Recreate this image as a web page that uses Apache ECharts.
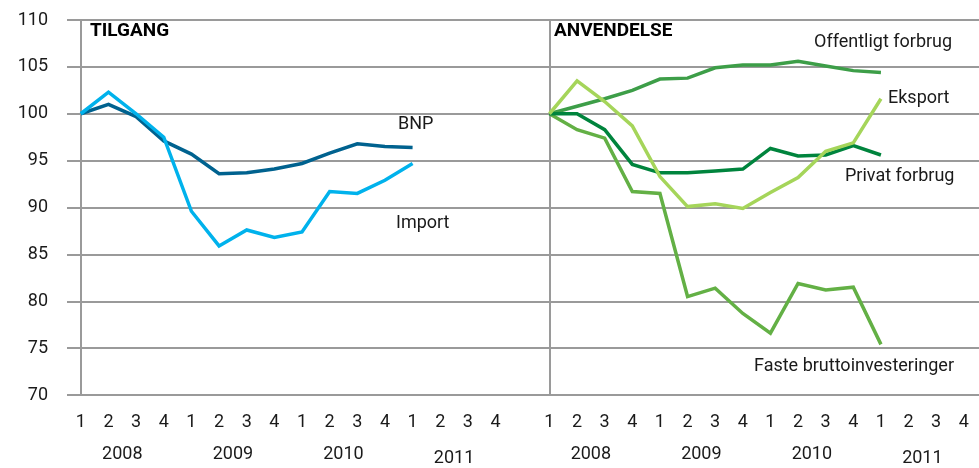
<!DOCTYPE html>
<html>
<head>
<meta charset="utf-8">
<script src="https://cdn.jsdelivr.net/npm/echarts@6/dist/echarts.min.js"></script>
<style>
  html, body { margin: 0; padding: 0; background: #fff; }
  #chart { width: 979px; height: 468px; }
</style>
</head>
<body>
<div id="chart"></div>
<script>
// kvartaler og år
const quarters = ['1', '2', '3', '4', '1', '2', '3', '4', '1', '2', '3', '4', '1', '2', '3', '4']
const years = ['2008', '2009', '2010', '2011']
const yearPos = [1.5, 5.5, 9.5, 13.5]
const yTicks = [70, 75, 80, 85, 90, 95, 100, 105, 110]

// TILGANG
const bnp = [100, 101.0, 99.7, 97.1, 95.7, 93.6, 93.7, 94.1, 94.7, 95.8, 96.8, 96.5, 96.4]
const importData = [100, 102.3, 100.0, 97.5, 89.6, 85.9, 87.6, 86.8, 87.4, 91.7, 91.5, 92.9, 94.7]

// ANVENDELSE
const offentligt = [100, 100.8, 101.6, 102.5, 103.7, 103.8, 104.9, 105.2, 105.2, 105.6, 105.1, 104.6, 104.4]
const eksport = [100, 103.5, 101.3, 98.7, 93.3, 90.1, 90.4, 89.9, 91.6, 93.2, 96.0, 96.9, 101.6]
const privat = [100, 100.0, 98.3, 94.6, 93.7, 93.7, 93.9, 94.1, 96.3, 95.5, 95.6, 96.6, 95.6]
const faste = [100, 98.3, 97.4, 91.7, 91.5, 80.5, 81.4, 78.7, 76.6, 81.9, 81.2, 81.5, 75.4]

const FONT = "'Liberation Sans Narrow', 'Roboto', sans-serif"
const GRID_COLOR = '#9a9a9a'
const TEXT_COLOR = '#1a1a1a'

function toPairs(arr) {
  return arr.map((v, i) => [i, v])
}

function quarterAxis(gridIndex, min, max) {
  return {
    type: 'value',
    gridIndex: gridIndex,
    min: min,
    max: max,
    axisLine: { show: false },
    axisTick: { show: false },
    splitLine: { show: false },
    axisLabel: {
      customValues: quarters.map((q, i) => i),
      formatter: (v) => quarters[Math.round(v)],
      margin: 18,
      fontSize: 18,
      fontFamily: FONT,
      color: TEXT_COLOR
    }
  }
}

function yearAxis(gridIndex, min, max) {
  return {
    type: 'value',
    gridIndex: gridIndex,
    min: min,
    max: max,
    position: 'bottom',
    axisLine: { show: false },
    axisTick: { show: false },
    splitLine: { show: false },
    axisLabel: {
      customValues: yearPos,
      formatter: (v) => {
        const y = years[yearPos.indexOf(v)]
        return y === '2011' ? '{low|' + y + '}' : y
      },
      rich: {
        low: { fontSize: 18, fontFamily: FONT, color: TEXT_COLOR, padding: [4, 0, 0, 0] }
      },
      margin: 50,
      fontSize: 18,
      fontFamily: FONT,
      color: TEXT_COLOR
    }
  }
}

function valueAxis(gridIndex, showLabel) {
  return {
    type: 'value',
    gridIndex: gridIndex,
    min: yTicks[0],
    max: yTicks[yTicks.length - 1],
    interval: 5,
    axisLine: { show: true, lineStyle: { color: GRID_COLOR, width: 2 } },
    axisTick: { show: false },
    splitLine: { lineStyle: { color: GRID_COLOR, width: 2 } },
    axisLabel: {
      show: showLabel,
      margin: 19,
      fontSize: 18,
      fontFamily: FONT,
      color: TEXT_COLOR
    }
  }
}

function lineSeries(name, data, color, axisIndex) {
  return {
    name: name,
    type: 'line',
    xAxisIndex: axisIndex,
    yAxisIndex: axisIndex,
    data: toPairs(data),
    showSymbol: false,
    symbol: 'none',
    smooth: false,
    lineStyle: { color: color, width: 3.5, join: 'miter' },
    z: 3,
    animation: false
  }
}

function label(text, x, y, bold) {
  return {
    type: 'text',
    left: x,
    top: y,
    style: {
      text: text,
      font: (bold ? 'bold 19px ' : '18px ') + FONT,
      fill: bold ? '#000' : TEXT_COLOR
    }
  }
}

const chart = echarts.init(document.getElementById('chart'))
const option = {
  animation: false,
  grid: [
    { left: 67, right: 442, top: 20, bottom: 73 },
    { left: 537, right: 0, top: 20, bottom: 73 }
  ],
  xAxis: [
    quarterAxis(0, -0.5, 16.5),
    quarterAxis(1, -0.45, 15.55),
    yearAxis(0, -0.5, 16.5),
    yearAxis(1, -0.45, 15.55)
  ],
  yAxis: [
    valueAxis(0, true),
    valueAxis(1, false)
  ],
  series: [
    lineSeries('BNP', bnp, '#00628f', 0),
    lineSeries('Import', importData, '#00b2ec', 0),
    lineSeries('Faste bruttoinvesteringer', faste, '#63b045', 1),
    lineSeries('Offentligt forbrug', offentligt, '#3d9e48', 1),
    lineSeries('Privat forbrug', privat, '#00843d', 1),
    lineSeries('Eksport', eksport, '#a5d55a', 1)
  ],
  graphic: [
    label('TILGANG', 90, 22, true),
    label('ANVENDELSE', 554, 22, true),
    label('BNP', 398, 115, false),
    label('Import', 396, 214, false),
    label('Offentligt forbrug', 814, 33, false),
    label('Eksport', 888, 89, false),
    label('Privat forbrug', 845, 167, false),
    label('Faste bruttoinvesteringer', 754, 357, false)
  ]
}
chart.setOption(option)
</script>
</body>
</html>
